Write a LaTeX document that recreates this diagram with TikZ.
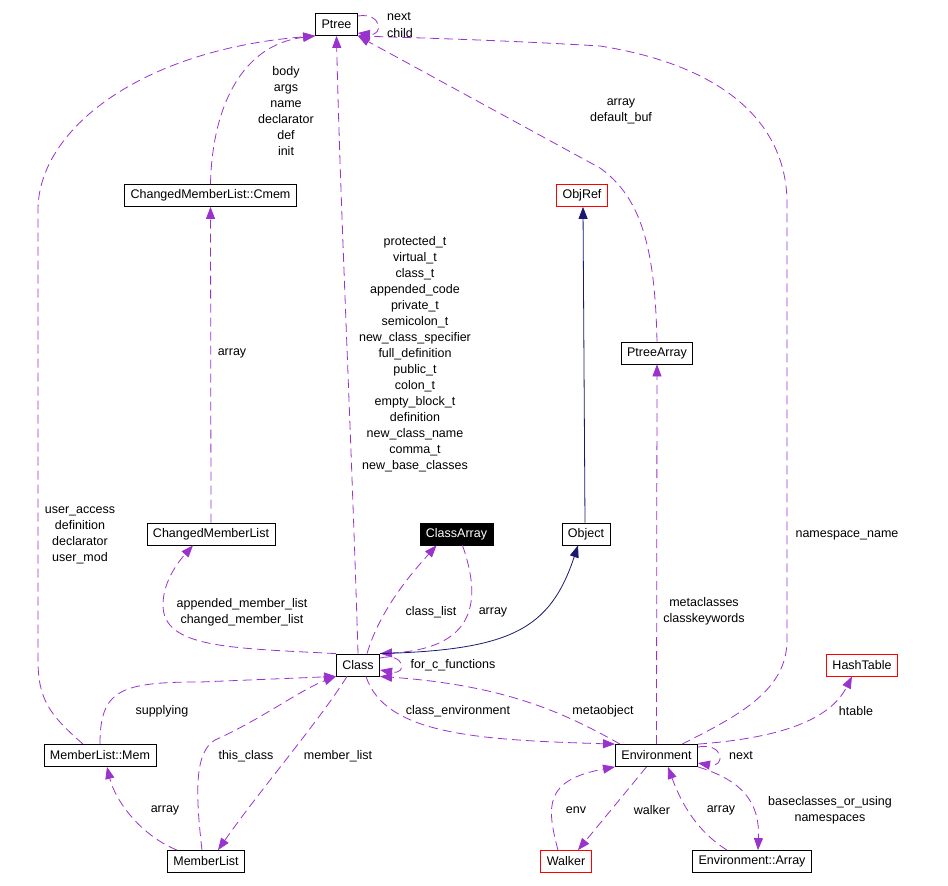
\documentclass[tikz,border=0pt]{standalone}
\usepackage{fontspec}
\setmainfont{Liberation Sans}
\usetikzlibrary{arrows.meta}
\definecolor{edgepurple}{HTML}{9A32CD}
\definecolor{edgeblue}{HTML}{191970}
\begin{document}
\begin{tikzpicture}[x=1pt,y=-1pt,
  every node/.style={font=\fontsize{12.5}{16}\selectfont},
  cbox/.style={draw=black,line width=0.8pt,rectangle,inner xsep=6pt,inner ysep=0pt,minimum height=22pt,fill=white},
  rbox/.style={cbox,draw=red},
  hbox/.style={cbox,fill=black,text=white},
  lbl/.style={align=center,inner sep=0pt},
  use/.style={draw=edgepurple,line width=0.8pt,dash pattern=on 9pt off 5pt,-{Triangle[length=12pt,width=9pt]},arrows={[fill=edgepurple]}},
  inh/.style={draw=edgeblue,line width=0.8pt,-{Triangle[length=12pt,width=9pt]}}]
\useasboundingbox (0,0) rectangle (948,886);

% nodes
\node[cbox] (ptree) at (336.5,24.5) {Ptree};
\node[cbox] (cmem) at (210.5,195.5) {ChangedMemberList::Cmem};
\node[rbox] (objref) at (582,195.5) {ObjRef};
\node[cbox] (ptreearray) at (657,353) {PtreeArray};
\node[cbox] (cml) at (211,534) {ChangedMemberList};
\node[hbox] (classarray) at (456.5,534) {ClassArray};
\node[cbox] (obj) at (586,534) {Object};
\node[cbox] (cls) at (358,665) {Class};
\node[rbox] (hash) at (862,665) {HashTable};
\node[cbox] (mem) at (100,755.5) {MemberList::Mem};
\node[cbox] (env) at (656.5,755.5) {Environment};
\node[cbox] (ml) at (206,861.5) {MemberList};
\node[rbox] (walker) at (566,861.5) {Walker};
\node[cbox] (envarr) at (752,861.5) {Environment::Array};

% edges to Ptree
\draw[use] ([yshift=8.5pt]ptree.east) .. controls (382,12) and (384,36) .. ([yshift=-8.5pt]ptree.east);
\draw[use] ([xshift=-17pt]mem.north) .. controls (50,715) and (38,700) .. (38,660) -- (38,210)
   .. controls (38,130) and (140,50) .. (ptree.south west);
\draw[use] (cmem.north) .. controls (212,110) and (240,45) .. (ptree.south west);
\draw[use] ([xshift=0pt]cls.north) .. controls (352,450) and (340,200) .. (ptree.south);
\draw[use] (ptreearray.north) .. controls (655,250) and (642,198) .. (600,168) -- (ptree.south east);
\draw[use] ([xshift=25.5pt]env.north) .. controls (740,715) and (787,690) .. (787,640) -- (787,200)
   .. controls (785,120) and (720,65) .. (600,46) .. controls (500,40) and (420,38) .. (ptree.south east);

% Cmem / ChangedMemberList
\draw[use] (cml.north) -- (cmem.south);
\draw[use] (cls.north west) .. controls (230,648) and (163,648) .. (163,605)
   .. controls (163,580) and (180,560) .. ([xshift=-18pt]cml.south);

% ClassArray
\draw[use] ([xshift=9pt]cls.north) .. controls (380,610) and (410,575) .. ([xshift=-20pt]classarray.south);
\draw[use] ([xshift=6pt]classarray.south) .. controls (478,590) and (485,648) .. (cls.north east);

% inheritance
\draw[inh] (cls.north east) .. controls (510,650) and (550,630) .. ([xshift=-8pt]obj.south);
\draw[inh] ([xshift=-1pt]obj.north) -- ([xshift=1pt]objref.south);

% Class self loop
\draw[use] ([yshift=7pt]cls.east) .. controls (405,652) and (408,675) .. ([yshift=-5pt]cls.east);

% MemberList::Mem, MemberList
\draw[use] (mem.north) .. controls (100,690) and (120,682) .. (200,682) -- (cls.south west);
\draw[use] ([xshift=-4pt]ml.north) .. controls (195,790) and (195,752) .. (215,740)
   .. controls (260,720) and (300,690) .. (cls.south west);
\draw[use] ([xshift=-11pt]cls.south) .. controls (320,720) and (260,790) .. ([xshift=12pt]ml.north);
\draw[use] ([xshift=-29pt]ml.north) .. controls (140,835) and (115,800) .. ([xshift=7pt]mem.south);

% Class <-> Environment
\draw[use] ([xshift=8pt]cls.south) .. controls (385,735) and (480,740) .. (env.north west);
\draw[use] ([xshift=5pt]env.north west) .. controls (560,710) and (500,685) .. (cls.south east);

% Environment
\draw[use] (env.north) -- (ptreearray.south);
\draw[use] (env.north east) .. controls (780,738) and (830,720) .. ([xshift=-10pt]hash.south);
\draw[use] ([yshift=8.5pt]env.east) .. controls (724,742) and (726,768) .. ([yshift=-7.5pt]env.east);
\draw[use] ([xshift=-8pt]walker.north) .. controls (546,805) and (545,780) .. (env.south west);
\draw[use] ([xshift=-10pt]env.south) -- ([xshift=12pt]walker.north);
\draw[use] ([xshift=-25pt]envarr.north) .. controls (695,830) and (680,800) .. ([xshift=11.5pt]env.south);
\draw[use] (env.south east) .. controls (740,780) and (760,800) .. ([xshift=6pt]envarr.north);

% labels
\node[lbl,anchor=west] (lnext) at (387,17) {next};
\node[lbl,anchor=west] (lchild) at (387,33) {child};
\node[lbl] (lcmem) at (286,111) {body\\args\\name\\declarator\\def\\init};
\node[lbl] (lpa) at (621,111) {array\\default\_buf};
\node[lbl] (lcmlarr) at (232,353) {array};
\node[lbl] (lcls) at (415,354) {protected\_t\\virtual\_t\\class\_t\\appended\_code\\private\_t\\semicolon\_t\\new\_class\_specifier\\full\_definition\\public\_t\\colon\_t\\empty\_block\_t\\definition\\new\_class\_name\\comma\_t\\new\_base\_classes};
\node[lbl] (lmem) at (80,535) {user\_access\\definition\\declarator\\user\_mod};
\node[lbl] (lns) at (847,535) {namespace\_name};
\node[lbl] (lmeta) at (704,611) {metaclasses\\classkeywords};
\node[lbl] (lapp) at (242,612) {appended\_member\_list\\changed\_member\_list};
\node[lbl] (lclist) at (431,612) {class\_list};
\node[lbl] (lcaarr) at (493,612) {array};
\node[lbl] (lfor) at (453,665) {for\_c\_functions};
\node[lbl] (lsup) at (162,711) {supplying};
\node[lbl] (lce) at (458,711) {class\_environment};
\node[lbl] (lmo) at (603,711) {metaobject};
\node[lbl] (lht) at (856,711) {htable};
\node[lbl] (lenext) at (741,756) {next};
\node[lbl] (lthis) at (246,756) {this\_class};
\node[lbl] (lml) at (338,756) {member\_list};
\node[lbl] (lmlarr) at (165,810) {array};
\node[lbl] (lenv) at (576,810) {env};
\node[lbl] (lwalk) at (652,810) {walker};
\node[lbl] (learr) at (721,810) {array};
\node[lbl] (lbase) at (830,810) {baseclasses\_or\_using\\namespaces};
\end{tikzpicture}
\end{document}
